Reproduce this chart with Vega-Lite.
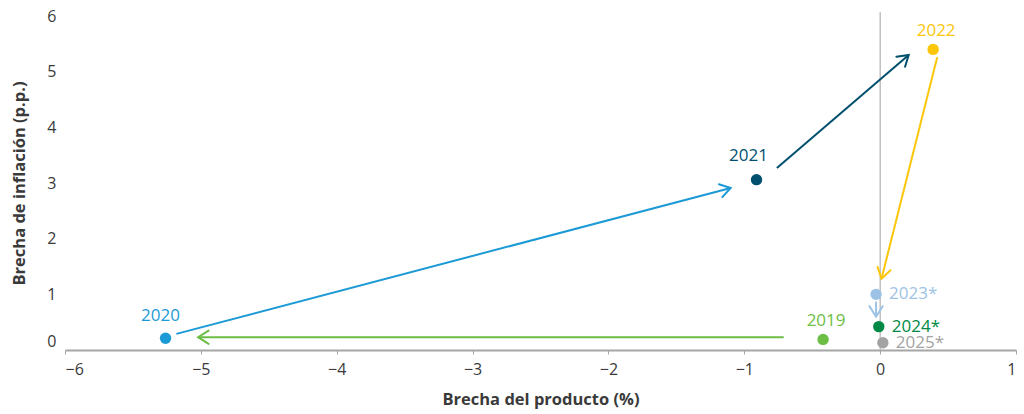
{
  "$schema": "https://vega.github.io/schema/vega-lite/v6.json",
  "width": 951,
  "height": 334,
  "autosize": "none",
  "padding": {"left": 65, "top": 16, "right": 8, "bottom": 64},
  "background": "white",
  "config": {
    "view": {"stroke": null},
    "font": "Open Sans",
    "axis": {"labelFont": "Open Sans", "titleFont": "Open Sans", "labelColor": "#3a3a3a", "titleColor": "#3a3a3a"}
  },
  "datasets": {
    "puntos": [
      {"anio": "2019", "x": -0.42, "y": 0.19, "etiqueta": "2019"},
      {"anio": "2020", "x": -5.26, "y": 0.21, "etiqueta": "2020"},
      {"anio": "2021", "x": -0.91, "y": 3.06, "etiqueta": "2021"},
      {"anio": "2022", "x": 0.39, "y": 5.40, "etiqueta": "2022"},
      {"anio": "2023", "x": -0.03, "y": 1.00, "etiqueta": "2023*"},
      {"anio": "2024", "x": -0.01, "y": 0.42, "etiqueta": "2024*"},
      {"anio": "2025", "x": 0.02, "y": 0.13, "etiqueta": "2025*"}
    ],
    "flechas": [
      {"anio": "2019", "x": -0.71, "y": 0.23, "x2": -5.02, "y2": 0.23},
      {"anio": "2020", "x": -5.18, "y": 0.29, "x2": -1.10, "y2": 2.91},
      {"anio": "2021", "x": -0.76, "y": 3.27, "x2": 0.21, "y2": 5.30},
      {"anio": "2022", "x": 0.42, "y": 5.26, "x2": 0.01, "y2": 1.28},
      {"anio": "2023", "x": -0.03, "y": 0.87, "x2": -0.03, "y2": 0.60}
    ]
  },
  "encoding": {
    "x": {
      "field": "x", "type": "quantitative",
      "scale": {"domain": [-6, 1], "nice": false, "zero": false},
      "axis": {
        "title": "Brecha del producto (%)",
        "values": [-6, -5, -4, -3, -2, -1, 0, 1],
        "grid": false,
        "domainColor": "#a6a6a6", "domainWidth": 2,
        "tickColor": "#a6a6a6", "tickSize": 4, "tickWidth": 1,
        "labelFontSize": 16, "labelPadding": 7,
        "titleFontSize": 16.5, "titleFontWeight": 700, "titlePadding": 14
      }
    },
    "y": {
      "field": "y", "type": "quantitative",
      "scale": {"domain": [0, 6], "nice": false},
      "axis": {
        "title": "Brecha de inflación (p.p.)",
        "values": [0, 1, 2, 3, 4, 5, 6],
        "grid": false, "domain": false, "ticks": false,
        "labelFontSize": 16, "labelPadding": 9,
        "labelOffset": {"condition": {"test": "datum.value == 0", "value": -9}, "value": 0},
        "titleFontSize": 16.5, "titleFontWeight": 700, "titlePadding": 19
      }
    },
    "color": {
      "field": "anio", "type": "nominal", "legend": null,
      "scale": {
        "domain": ["2019", "2020", "2021", "2022", "2023", "2024", "2025"],
        "range": ["#6dbe45", "#1c9ad6", "#004f6e", "#fcc60a", "#9cc3e5", "#008a45", "#a3a3a3"]
      }
    }
  },
  "layer": [
    {
      "data": {"values": [{"x": 0, "y": 0, "y2": 6.07}]},
      "mark": {"type": "rule", "color": "#a0a0a0", "strokeWidth": 1},
      "encoding": {"y2": {"field": "y2"}, "color": {"value": "#a0a0a0"}}
    },
    {
      "data": {"name": "flechas"},
      "mark": {"type": "rule", "strokeWidth": 2},
      "encoding": {"x2": {"field": "x2"}, "y2": {"field": "y2"}}
    },
    {
      "data": {"name": "flechas"},
      "transform": [
        {"calculate": "atan2(-(datum.y2 - datum.y) * 55.67, (datum.x2 - datum.x) * 135.86) * 180 / PI", "as": "ang"}
      ],
      "mark": {"type": "point", "shape": "M-2.2,-1.4L0,0L-2.2,1.4", "filled": false, "strokeWidth": 2, "size": 90, "opacity": 1, "strokeJoin": "miter", "strokeCap": "round"},
      "encoding": {
        "x": {"field": "x2", "type": "quantitative"},
        "y": {"field": "y2", "type": "quantitative"},
        "angle": {"field": "ang", "type": "quantitative", "scale": null}
      }
    },
    {
      "data": {"name": "puntos"},
      "mark": {"type": "circle", "size": 130, "opacity": 1},
      "encoding": {}
    },
    {
      "data": {"name": "puntos"},
      "transform": [{"filter": "datum.anio == '2019' || datum.anio == '2022'"}],
      "mark": {"type": "text", "fontSize": 17, "baseline": "middle", "align": "center", "dx": 3, "dy": -18},
      "encoding": {"text": {"field": "etiqueta"}}
    },
    {
      "data": {"name": "puntos"},
      "transform": [{"filter": "datum.anio == '2020'"}],
      "mark": {"type": "text", "fontSize": 17, "baseline": "middle", "align": "center", "dx": -5, "dy": -22},
      "encoding": {"text": {"field": "etiqueta"}}
    },
    {
      "data": {"name": "puntos"},
      "transform": [{"filter": "datum.anio == '2021'"}],
      "mark": {"type": "text", "fontSize": 17, "baseline": "middle", "align": "center", "dx": -8, "dy": -24},
      "encoding": {"text": {"field": "etiqueta"}}
    },
    {
      "data": {"name": "puntos"},
      "transform": [{"filter": "datum.anio > '2022'"}],
      "mark": {"type": "text", "fontSize": 17, "baseline": "middle", "align": "left", "dx": 13},
      "encoding": {"text": {"field": "etiqueta"}}
    }
  ]
}
